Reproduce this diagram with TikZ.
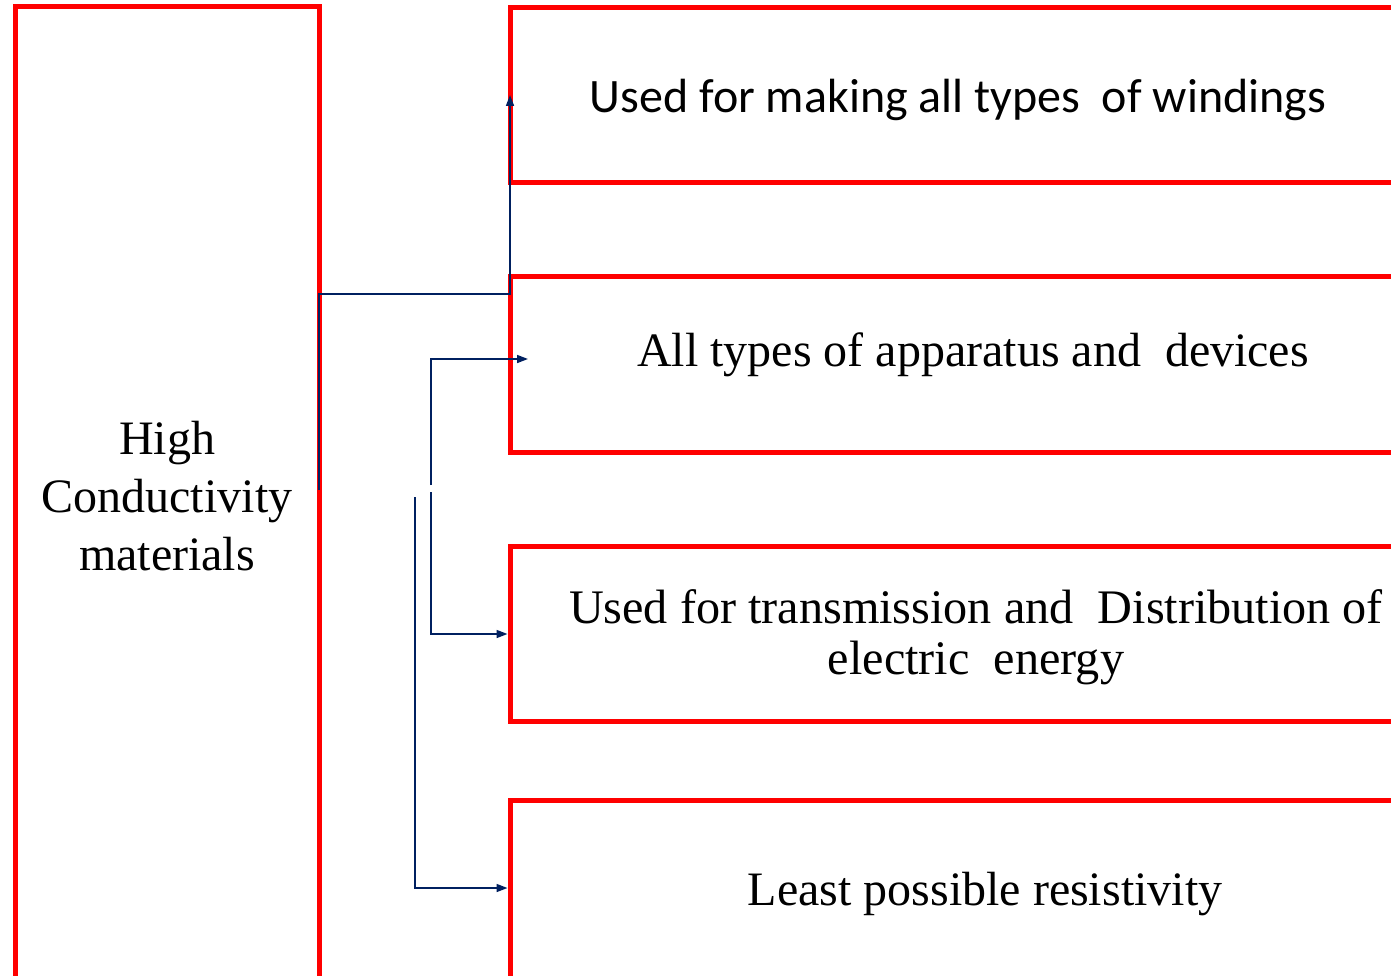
\documentclass[tikz,border=0pt]{standalone}
\usepackage{fontspec}
\setmainfont{Liberation Serif}
\newfontfamily\calib{Carlito}
\usetikzlibrary{arrows.meta,calc}
\definecolor{navy}{HTML}{002060}
\tikzset{
  rbox/.style={draw=red, line width=5pt, rectangle, inner sep=0pt},
  serifbig/.style={font=\fontsize{48}{58}\selectfont, align=center, text=black},
  sansbig/.style={font=\calib\fontsize{48}{56}\selectfont, align=center, text=black},
  conn/.style={draw=navy, line width=1.6pt, -{Triangle[length=11pt,width=8pt]}},
  connplain/.style={draw=navy, line width=1.6pt}
}
\begin{document}
\begin{tikzpicture}[x=1pt,y=-1pt]
\useasboundingbox (0,0) rectangle (1391,976);
\clip (0,0) rectangle (1391,976);
\fill[white] (0,0) rectangle (1391,976);
% left box
\node[rbox, minimum width=304pt, minimum height=984pt] (left) at (167,499) {};
\node[serifbig] (lefttext) at (167,496) {High\\Conductivity\\materials};
% right boxes
\node[rbox, minimum width=896pt, minimum height=175pt] (b1) at (958,95.5) {};
\node[sansbig] (t1) at (958,100) {Used for making all types\ \ of windings};
\node[rbox, minimum width=926pt, minimum height=176pt] (b2) at (973,364) {};
\node[serifbig] (t2) at (973,355) {All types of apparatus and\ \ devices};
\node[rbox, minimum width=932pt, minimum height=175pt] (b3) at (976,633.5) {};
\node[serifbig, font=\fontsize{48.2}{51}\selectfont] (t3) at (976,637) {Used for transmission and\ \ Distribution of\\electric\ \ energy};
\node[rbox, minimum width=950pt, minimum height=180pt] (b4) at (985,890) {};
\node[serifbig] (t4) at (985,894) {Least possible resistivity};
% connectors
\coordinate (s1) at (319,490);
\coordinate (e1) at (510,95);
\coordinate (s2) at (431,485);
\coordinate (e2) at (528,359);
\coordinate (s3) at (431,492);
\coordinate (s4) at (415,497);
\draw[conn] (s1) |- (510,294) -- (e1);
\draw[conn] (s2) |- (e2);
\draw[conn] (s3) |- (b3.west |- 0,634);
\draw[conn] (s4) |- (b4.west |- 0,888);
\end{tikzpicture}
\end{document}
